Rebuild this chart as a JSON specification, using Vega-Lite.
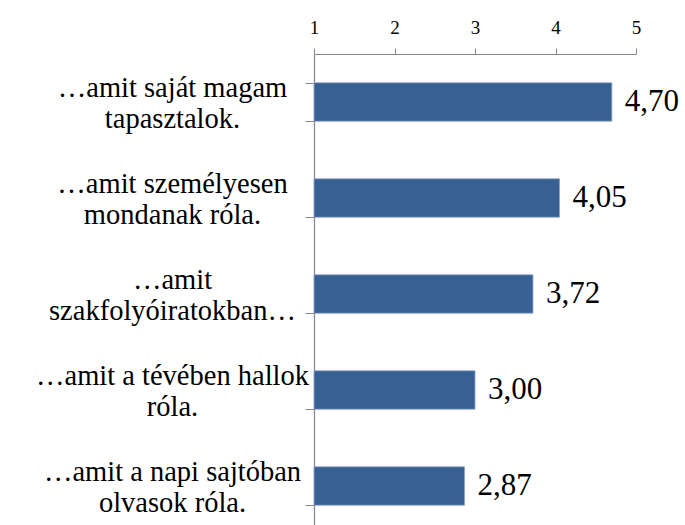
{
  "$schema": "https://vega.github.io/schema/vega-lite/v6.json",
  "width": 322,
  "height": 480,
  "autosize": {"type": "none"},
  "padding": {"left": 314, "top": 54, "right": 49, "bottom": 0},
  "background": "white",
  "config": {
    "view": {"stroke": null},
    "font": "'Liberation Serif', 'Times New Roman', 'DejaVu Serif', serif",
    "locale": {"number": {"decimal": ",", "thousands": " ", "grouping": [3], "currency": ["", ""]}}
  },
  "data": {
    "values": [
      {"cat": "…amit saját magam\ntapasztalok.", "value": 4.70},
      {"cat": "…amit személyesen\nmondanak róla.", "value": 4.05},
      {"cat": "…amit\nszakfolyóiratokban…", "value": 3.72},
      {"cat": "…amit a tévében hallok\nróla.", "value": 3.00},
      {"cat": "…amit a napi sajtóban\nolvasok róla.", "value": 2.87}
    ]
  },
  "encoding": {
    "y": {
      "field": "cat",
      "type": "nominal",
      "sort": null,
      "scale": {"paddingInner": 0.6, "paddingOuter": 0.3},
      "axis": {
        "title": null,
        "tickBand": "extent",
        "tickSize": 9,
        "tickColor": "#868686",
        "domainColor": "#868686",
        "tickWidth": 1,
        "domainWidth": 1.2,
        "labelFont": "'Liberation Serif', 'Times New Roman', 'DejaVu Serif', serif",
        "labelFontSize": 28.5,
        "labelColor": "black",
        "labelAlign": "center",
        "labelBaseline": "middle",
        "labelLineHeight": 31,
        "labelPadding": 133,
        "labelOffset": -15,
        "labelLimit": 0,
        "labelExpr": "split(datum.label, '\\n')"
      }
    }
  },
  "layer": [
    {
      "mark": {"type": "bar", "color": "#386092", "stroke": "#8aa4c8", "strokeWidth": 0.8},
      "encoding": {
        "x": {
          "field": "value",
          "type": "quantitative",
          "scale": {"domain": [1, 5], "zero": false, "nice": false},
          "axis": {
            "orient": "top",
            "title": null,
            "values": [1, 2, 3, 4, 5],
            "format": "d",
            "grid": false,
            "tickSize": 6,
            "tickColor": "#868686",
            "domainColor": "#868686",
            "domainWidth": 1.2,
            "labelFont": "'Liberation Serif', 'Times New Roman', 'DejaVu Serif', serif",
            "labelFontSize": 19,
            "labelColor": "black",
            "labelPadding": 11,
            "labelFlush": false,
            "labelAngle": 0
          }
        },
        "x2": {"datum": 1}
      }
    },
    {
      "mark": {"type": "text", "align": "left", "baseline": "middle", "dx": 13, "font": "'Liberation Serif', 'Times New Roman', 'DejaVu Serif', serif", "fontSize": 31, "color": "black"},
      "encoding": {
        "x": {"field": "value", "type": "quantitative"},
        "text": {"field": "value", "type": "quantitative", "format": ".2f"}
      }
    }
  ]
}
